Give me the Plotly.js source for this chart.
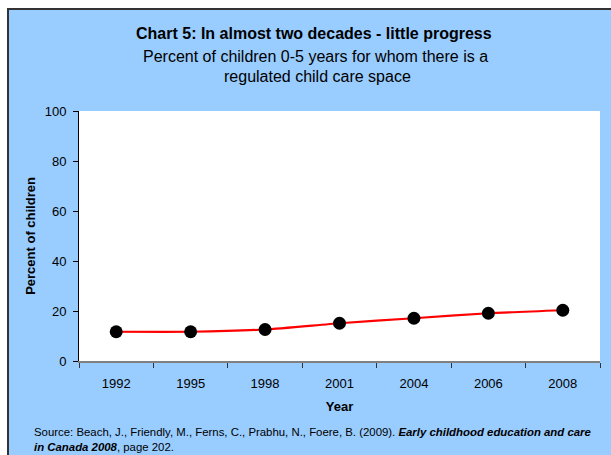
<!DOCTYPE html>
<html>
<head>
<meta charset="utf-8">
<script src="https://cdn.plot.ly/plotly-3.0.1.min.js"></script>
<style>
  html, body { margin: 0; padding: 0; background: #ffffff; }
  #wrap { position: relative; width: 611px; height: 455px; overflow: hidden; }
  #frame { position: absolute; left: 7px; top: 8px; width: 620px; height: 460px;
           background: #99CCFF; border-left: 2px solid #333333; border-top: 2px solid #333333; }
  #chart { position: absolute; left: 0; top: 0; width: 611px; height: 455px; }
</style>
</head>
<body>
<div id="wrap">
  <div id="frame"></div>
  <div id="chart"></div>
</div>
<script>
const years = ["1992", "1995", "1998", "2001", "2004", "2006", "2008"];
const percent = [11.7, 11.7, 12.6, 15.1, 17.1, 19.1, 20.3];
const yTicks = [0, 20, 40, 60, 80, 100];

const titleMain = "Chart 5: In almost two decades - little progress";
const titleSub1 = "Percent of children 0-5 years for whom there is a";
const titleSub2 = "regulated child care space";
const sourceText = "Source: Beach, J., Friendly, M., Ferns, C., Prabhu, N., Foere, B. (2009). <b><i>Early childhood education and care</i></b><br><b><i>in Canada 2008</i></b>, page 202.";

const W = 611, H = 455;
const L = 79, R = 11, T = 111, B = 94;
const pw = W - L - R, ph = H - T - B;
function px(x) { return (x - L) / pw; }
function py(y) { return (H - B - y) / ph; }

const trace = {
  x: years,
  y: percent,
  type: 'scatter',
  mode: 'lines+markers',
  line: { color: '#FF0000', width: 2.2, shape: 'spline', smoothing: 0.6 },
  marker: { color: '#000000', size: 13 },
  hoverinfo: 'skip'
};

const font = { family: 'Arial, "Liberation Sans", sans-serif', color: '#000000' };

const layout = {
  width: W, height: H,
  margin: { l: L, r: R, t: T, b: B, pad: 0 },
  paper_bgcolor: 'rgba(0,0,0,0)',
  plot_bgcolor: '#ffffff',
  showlegend: false,
  font: Object.assign({ size: 13 }, font),
  xaxis: {
    type: 'category',
    range: [-0.5, 6.5],
    tickson: 'boundaries',
    ticks: 'outside', ticklen: 5, tickcolor: '#333333', tickwidth: 1,
    ticklabelstandoff: 9,
    showline: true, linecolor: '#808080', linewidth: 2,
    showgrid: false, zeroline: false,
    tickfont: Object.assign({ size: 13 }, font),
    title: { text: '<b>Year</b>', font: Object.assign({ size: 13 }, font), standoff: 12 },
    fixedrange: true
  },
  yaxis: {
    range: [0, 100],
    tickvals: yTicks,
    ticktext: yTicks.map(String),
    ticks: 'outside', ticklen: 5, tickcolor: '#000000', tickwidth: 1,
    ticklabelstandoff: 4,
    showline: true, linecolor: '#000000', linewidth: 1,
    showgrid: false, zeroline: false,
    tickfont: Object.assign({ size: 13 }, font),
    title: { text: '<b>Percent of children</b>', font: Object.assign({ size: 13 }, font), standoff: 6 },
    fixedrange: true
  },
  annotations: [
    { text: '<b>' + titleMain + '</b>', xref: 'paper', yref: 'paper', x: px(314), y: py(34),
      xanchor: 'center', yanchor: 'middle', showarrow: false, font: Object.assign({ size: 16 }, font) },
    { text: titleSub1, xref: 'paper', yref: 'paper', x: px(315), y: py(56),
      xanchor: 'center', yanchor: 'middle', showarrow: false, font: Object.assign({ size: 16 }, font) },
    { text: titleSub2, xref: 'paper', yref: 'paper', x: px(317), y: py(76),
      xanchor: 'center', yanchor: 'middle', showarrow: false, font: Object.assign({ size: 16 }, font) },
    { text: sourceText, xref: 'paper', yref: 'paper', x: px(32), y: py(439),
      xanchor: 'left', yanchor: 'middle', align: 'left', showarrow: false,
      font: Object.assign({ size: 11.4 }, font) }
  ]
};

Plotly.newPlot('chart', [trace], layout, { displayModeBar: false, staticPlot: true });
</script>
</body>
</html>
